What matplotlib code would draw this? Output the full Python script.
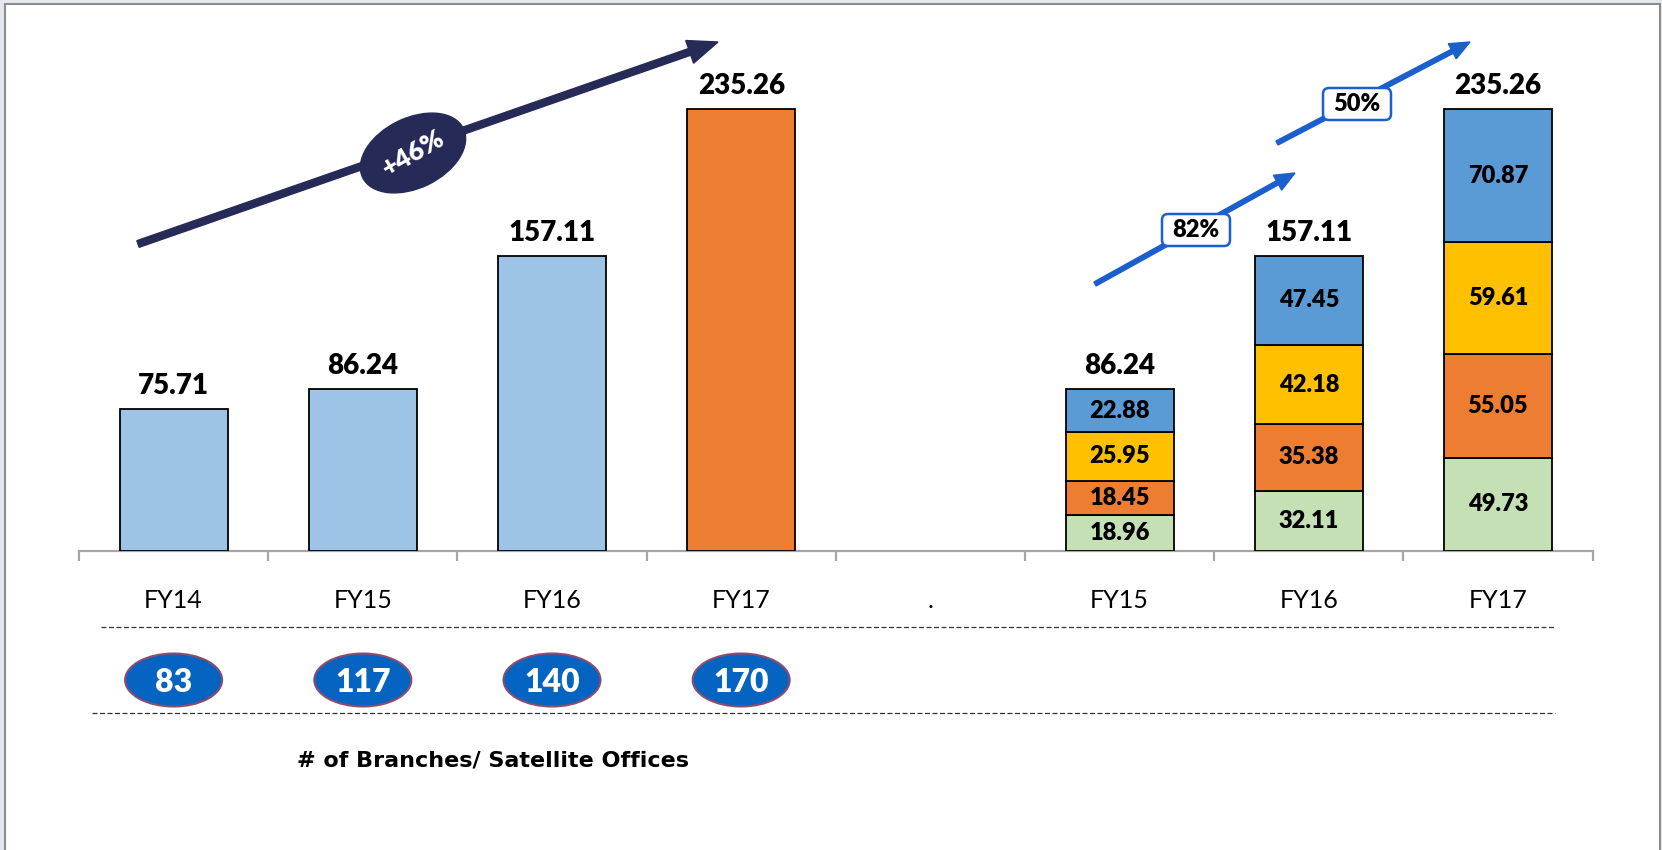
import numpy as np
import matplotlib
matplotlib.use("Agg")
import matplotlib.pyplot as plt
from matplotlib.patches import Ellipse, FancyArrow, Rectangle, FancyBboxPatch

plt.rcParams['font.family'] = ['Lato', 'DejaVu Sans']

# ---- data ----
left_years = ["FY14", "FY15", "FY16", "FY17"]
left_values = [75.71, 86.24, 157.11, 235.26]
left_colors = ["#9DC3E6", "#9DC3E6", "#9DC3E6", "#ED7D31"]
branches = [83, 117, 140, 170]

right_years = ["FY15", "FY16", "FY17"]
seg_green = [18.96, 32.11, 49.73]
seg_orange = [18.45, 35.38, 55.05]
seg_yellow = [25.95, 42.18, 59.61]
seg_blue = [22.88, 47.45, 70.87]
right_totals = [86.24, 157.11, 235.26]

tick_labels = left_years + ["."] + right_years
growth_left = "+46%"
growth_right = ["82%", "50%"]
caption = "# of Branches/ Satellite Offices"

# ---- figure ----
W, H = 1662, 850
px_per_unit = 1.878
heavy = "heavy"
fig = plt.figure(figsize=(W / 100, H / 100), dpi=100, facecolor="#e4e7ec")
fig.patches.append(Rectangle((5 / W, -0.02), (1660 - 5) / W, (H - 4) / H + 0.02,
                             transform=fig.transFigure, facecolor="white",
                             edgecolor="#8c8c8c", linewidth=1.5, zorder=-5))

ax = fig.add_axes([79 / W, (H - 551) / H, (1592.6 - 79) / W, (551 - 20) / H])
ax.patch.set_visible(False)
ax.set_xlim(0, 8)
ax.set_ylim(0, 531 / px_per_unit)
bw = 0.57

# left simple bars
x_left = np.arange(len(left_values)) + 0.5
ax.bar(x_left, left_values, bw, color=left_colors, edgecolor="black", linewidth=1.3, zorder=3)
for x, v in zip(x_left, left_values):
    ax.annotate(f"{v:.2f}", (x, v), xytext=(0, 7), textcoords="offset points",
                ha="center", va="bottom", fontsize=20, fontweight=heavy)

# right stacked bars
x_right = np.arange(5, 8) + 0.5
bottom = np.zeros(len(x_right))
for seg, col in zip([seg_green, seg_orange, seg_yellow, seg_blue],
                    ["#C5E0B4", "#ED7D31", "#FFC000", "#5B9BD5"]):
    seg = np.array(seg)
    ax.bar(x_right, seg, bw, bottom=bottom, color=col, edgecolor="black", linewidth=1.3, zorder=3)
    for x, b, v in zip(x_right, bottom, seg):
        ax.text(x, b + v / 2, f"{v:.2f}", ha="center", va="center",
                fontsize=17, fontweight=heavy, zorder=4)
    bottom += seg
for x, v in zip(x_right, right_totals):
    ax.annotate(f"{v:.2f}", (x, v), xytext=(0, 7), textcoords="offset points",
                ha="center", va="bottom", fontsize=20, fontweight=heavy)

# axis styling
for s in ["top", "right", "left"]:
    ax.spines[s].set_visible(False)
ax.spines["bottom"].set_color("#a6a6a6")
ax.spines["bottom"].set_linewidth(1.6)
ax.set_yticks([])
ax.set_xticks(np.arange(0, 9))
ax.set_xticklabels([])
ax.tick_params(axis="x", which="major", length=7, width=1.6, color="#a6a6a6")
ax.set_xticks(np.arange(8) + 0.5, minor=True)
ax.set_xticklabels(tick_labels, minor=True, fontsize=18)
ax.tick_params(axis="x", which="minor", length=0, pad=27)

# branch count ovals
yc = -(680 - 551) / px_per_unit
for x, n in zip(x_left, branches):
    ax.add_patch(Ellipse((x, yc), 97 / 189.2, 53 / px_per_unit, facecolor="#0563C1",
                         edgecolor="#8b4c70", linewidth=1.5, clip_on=False, zorder=5))
    ax.text(x, yc - 1.5, str(n), ha="center", va="center", color="white",
            fontsize=23, fontweight=heavy, zorder=6, clip_on=False)

# overlay in pixel coordinates for arrows and notes
ov = fig.add_axes([0, 0, 1, 1])
ov.set_xlim(0, W)
ov.set_ylim(H, 0)
ov.axis("off")
ov.patch.set_visible(False)

navy = "#262a56"
ov.add_patch(FancyArrow(138, 244, 718 - 138, 42 - 244, width=7, head_width=24, head_length=30,
                        length_includes_head=True, color=navy))
ov.add_patch(Ellipse((413, 153), 112, 70, angle=-26, color=navy))
ov.text(413, 153, growth_left, rotation=30, ha="center", va="center", color="white",
        fontsize=19, fontweight=heavy)

blue = "#1a5fcc"
arrows = [((1095, 284), (1295, 173)), ((1277, 143), (1470, 42))]
boxes = [(1196, 230), (1357, 104)]
for (p0, p1), (bx, by), lab in zip(arrows, boxes, growth_right):
    ov.add_patch(FancyArrow(p0[0], p0[1], p1[0] - p0[0], p1[1] - p0[1], width=4.5,
                            head_width=17, head_length=20, length_includes_head=True,
                            color=blue))
    ov.add_patch(FancyBboxPatch((bx - 34, by - 16), 68, 32, boxstyle="round,pad=0,rounding_size=6",
                                facecolor="white", edgecolor=blue, linewidth=1.8, zorder=5))
    ov.text(bx, by, lab, ha="center", va="center", fontsize=17, fontweight=heavy, zorder=6)

# dashed separators and caption
ov.plot([101, 1555], [627, 627], ls=(0, (4, 2)), lw=0.9, color="#333333")
ov.plot([92, 1555], [713, 713], ls=(0, (4, 2)), lw=0.9, color="#333333")
ov.text(493, 760, caption, ha="center", va="center", fontsize=16, fontweight="bold",
        family="DejaVu Sans")

fig.savefig("out.png", dpi=100, facecolor=fig.get_facecolor())
